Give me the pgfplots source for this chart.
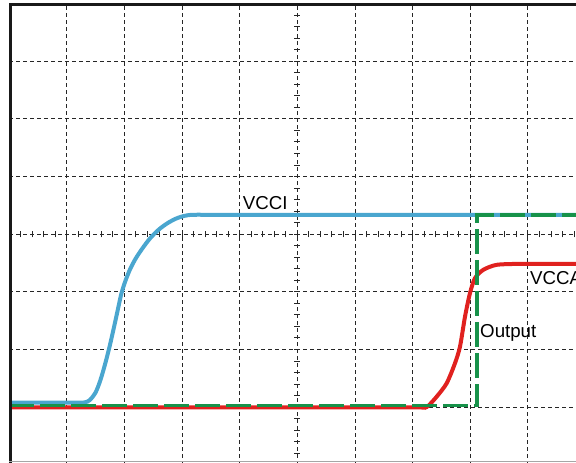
\documentclass[border=0pt]{standalone}
\usepackage{pgfplots}
\pgfplotsset{compat=1.18}
\usepackage{fontspec}
\setmainfont{Liberation Sans}
\definecolor{cblue}{HTML}{4AA6CF}
\definecolor{cred}{HTML}{E0211F}
\definecolor{cgreen}{HTML}{17924A}
\begin{document}
\begin{tikzpicture}
\clip (-9pt,1.7pt) rectangle (567pt,464.7pt);
\begin{axis}[
  name=ax,
  at={(0,0)}, anchor=south west,
  scale only axis, width=576.5pt, height=461.2pt,
  xmin=0, xmax=10, ymin=0, ymax=8,
  xtick={0,...,10}, ytick={0,...,8},
  xticklabels={}, yticklabels={},
  major tick length=0pt,
  grid=major,
  major grid style={black!85, line width=0.8pt, dash pattern=on 4pt off 3pt},
  axis line style={draw=none},
]
\pgfplotsinvokeforeach{0.2,0.4,...,9.9}{
  \draw[line width=0.75pt, black!85] ([yshift=-3.2pt]axis cs:#1,4) -- ([yshift=3.2pt]axis cs:#1,4);
}
\pgfplotsinvokeforeach{0.2,0.4,...,7.9}{
  \draw[line width=0.75pt, black!85] ([xshift=-3.2pt]axis cs:5,#1) -- ([xshift=3.2pt]axis cs:5,#1);
}
% VCCI
\addplot[cblue, line width=4pt, smooth, tension=0.5] coordinates {
  (0,1.076) (0.6,1.076) (1.2,1.076) (1.318,1.082) (1.40,1.12) (1.50,1.25)
  (1.58,1.45) (1.66,1.72) (1.74,2.03) (1.82,2.38) (1.89,2.70) (1.95,2.97)
  (2.02,3.19) (2.10,3.39) (2.20,3.58) (2.32,3.76) (2.45,3.93) (2.60,4.08)
  (2.75,4.19) (2.90,4.27) (3.05,4.318) (3.20,4.335) (3.6,4.335) (6,4.335) (10,4.335)
};
% VCCA
\addplot[cred, line width=4pt, smooth, tension=0.45] coordinates {
  (0,0.993) (3,0.993) (6,0.993) (7.1,0.993) (7.245,1.0) (7.419,1.181) (7.592,1.413)
  (7.736,1.760) (7.823,2.049) (7.910,2.569) (7.996,2.976) (8.083,3.236)
  (8.227,3.380) (8.460,3.467) (8.864,3.484) (9.3,3.485) (10,3.485)
};
% Output
\addplot[cgreen, line width=3.8pt, dash pattern=on 25pt off 6pt, sharp plot] coordinates {
  (0,1.028) (8.123,1.028) (8.123,4.335) (10,4.335)
};
\node[anchor=base west, inner sep=0pt, font=\fontsize{18.7}{22}\selectfont] at (axis cs:4.054,4.434) {VCCI};
\node[anchor=base west, inner sep=0pt, font=\fontsize{18.7}{22}\selectfont] at (axis cs:9.037,3.120) {VCCA};
\node[anchor=base west, inner sep=0pt, font=\fontsize{18.7}{22}\selectfont] at (axis cs:8.170,2.212) {Output};
\end{axis}
\draw[black!90, line width=2.5pt] ([xshift=1.5pt]ax.south west) -- ([xshift=1.5pt, yshift=-1pt]ax.north west) -- ([yshift=-1pt]ax.north east);
\draw[black!35, line width=1pt] ([yshift=3pt]ax.south west) -- ([yshift=3pt]ax.south east);
\end{tikzpicture}
\end{document}
